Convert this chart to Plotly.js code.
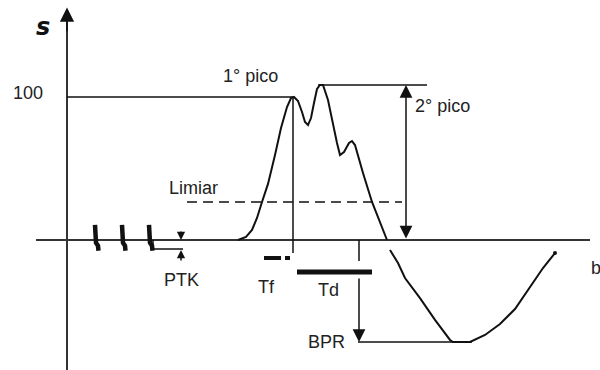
<!DOCTYPE html>
<html>
<head>
<meta charset="utf-8">
<script src="https://cdn.plot.ly/plotly-3.0.1.min.js"></script>
<style>html,body{margin:0;padding:0;background:#fff;}#chart{width:600px;height:370px;}</style>
</head>
<body>
<div id="chart"></div>
<script>
// ---- data (time in arbitrary units, s in % of first peak) ----
var sigX = [171,179,185,190,195,201,208,214,220,224,227,231,235,238,241,244,247,250,253,256,261,266,270,273,277,282,285,288,292,296,305,313,320,null,323,331,338,353,368,383,386,403,418,433,448,463,476,488];
var sigY = [0,2.1,7.0,15.4,26.6,39.2,59.4,78.3,93.0,99.3,100,97.2,89.5,82.5,80.4,85.3,95.8,105.6,108.4,108.4,97.9,80.4,67.8,59.4,61.5,67.8,69.2,66.4,55.9,46.9,26.6,12.6,0,null,-7.0,-16.1,-26.6,-40.6,-55.9,-69.9,-71.3,-71.3,-66.4,-58.7,-48.3,-32.9,-19.6,-9.1];
var spikeX = [30, 57, 84];           // PTK pulses
var ptkLevel = -6.3;                  // step after pulses
var peak1 = {x: 227, y: 100};
var peak2 = {x: 255, y: 108.4};
var limiar = 26.6;
var bpr = -71.3;
var tfStart = 197, tfEnd = 214, tfDot = [218, 223];
var tdStart = 230, tdEnd = 305;
var tdMarkX = 292;
var labels = ['s','100','1° pico','2° pico','Limiar','PTK','Tf','Td','BPR','b'];

var ink = '#111', axisInk = '#333';
var traces = [];
function line(xs, ys, w, color, dash){
  traces.push({type:'scatter', mode:'lines', x:xs, y:ys, hoverinfo:'skip',
    line:{color:color||ink, width:w||1.5, dash:dash||'solid', shape:'linear'}, showlegend:false});
}
// axes
line([-31, 523], [0, 0], 2, axisInk);
line([0, 0], [-90.9, 158], 2, axisInk);
// reference lines
line([0, peak1.x], [peak1.y, peak1.y], 1.5);
line([peak2.x - 4, peak2.x + 105], [peak2.y, peak2.y], 1.5);
line([peak1.x - 1, peak1.x - 1], [peak1.y, -9.1], 1.5);
line([120, 335], [limiar, limiar], 1.5, ink, '10px,6px');
line([tdMarkX, tdMarkX], [0, -14.7], 1.5);
line([tdMarkX - 1, tdMarkX + 113], [bpr, bpr], 1.5);
// Tf / Td bars
line([tfStart, tfEnd], [-12.6, -12.6], 4);
line(tfDot, [-12.6, -12.6], 4);
line([tdStart, tdEnd], [-22.4, -22.4], 5);
// PTK pulses and step
spikeX.forEach(function(c){
  line([c - 2, c - 2, c - 1, c + 1, c + 1.5], [10.5, 0, -2, -4, -7.5], 4.5);
});
line([spikeX[2] + 2, spikeX[2] + 2, 116], [0, ptkLevel, ptkLevel], 1.5);
// signal
traces.push({type:'scatter', mode:'lines', x:sigX, y:sigY, hoverinfo:'skip', showlegend:false,
  connectgaps:false, line:{color:ink, width:2}});
traces.push({type:'scatter', mode:'markers', x:[sigX[sigX.length-1]], y:[sigY[sigY.length-1]],
  hoverinfo:'skip', showlegend:false, marker:{color:ink, size:4}});

function arrow(x, y, ax, ay, both, size){
  return {x:x, y:y, ax:ax, ay:ay, xref:'x', yref:'y', axref:'x', ayref:'y', text:'',
    showarrow:true, arrowhead:2, startarrowhead:2, arrowside: both ? 'end+start' : 'end',
    arrowsize:size, startarrowsize:size, arrowwidth:1.5, arrowcolor:ink};
}
function label(t, x, y, opts){
  var a = {x:x, y:y, xref:'x', yref:'y', text:t, showarrow:false, xanchor:'center', yanchor:'middle',
    font:{family:'Liberation Sans, Arial, sans-serif', size:18, color:'#222'}};
  for (var k in opts) a[k] = opts[k];
  return a;
}
var ann = [
  arrow(0, 162.5, 0, 145, false, 1.9),
  arrow(339, peak2.y, 339, 0, true, 1.7),
  arrow(tdMarkX, bpr, tdMarkX, -25.9, false, 1.7),
  arrow(114, 0, 114, 7.0, false, 1.1),
  arrow(114, -7.0, 114, -15.4, false, 1.1),
  label(labels[0], -24, 149, {font:{family:'DejaVu Sans, sans-serif', size:24, color:'#111', weight:'bold', style:'italic'}}),
  label(labels[1], -39, 102.5),
  label(labels[2], 183, 115),
  label(labels[3], 346, 93.5, {xanchor:'left'}),
  label(labels[4], 126, 36.5),
  label(labels[5], 114, -28),
  label(labels[6], 199, -33),
  label(labels[7], 261, -35),
  label(labels[8], 259, -71),
  label(labels[9], 522, -19.5, {xanchor:'left'})
];

var layout = {
  width:600, height:370, margin:{l:0, r:0, t:0, b:0},
  paper_bgcolor:'#fff', plot_bgcolor:'#fff', showlegend:false,
  xaxis:{range:[-67, 533], visible:false, fixedrange:true},
  yaxis:{range:[-90.91, 167.83], visible:false, fixedrange:true},
  annotations: ann
};
Plotly.newPlot('chart', traces, layout, {displayModeBar:false, staticPlot:true});
</script>
</body>
</html>
